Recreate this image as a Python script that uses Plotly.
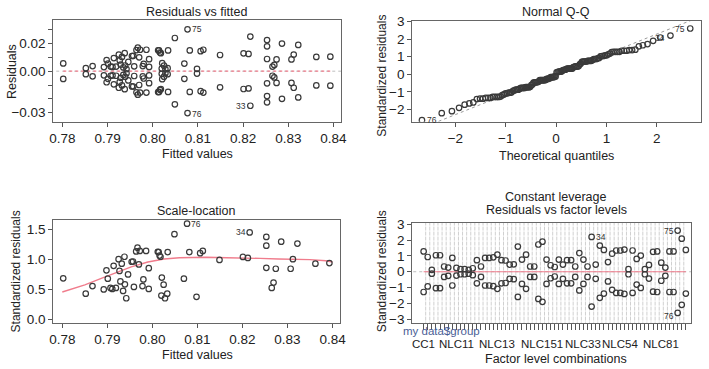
import plotly.graph_objects as go
from statistics import NormalDist
import numpy as np

# ---------------- data ----------------
# per group: fitted value and absolute residual (each group gives a +/- pair)
fitted = [0.7802, 0.7852, 0.7867, 0.7892, 0.7898, 0.7901, 0.7907, 0.7911, 0.7914, 0.7919,
          0.7925, 0.7927, 0.7929, 0.7932, 0.7935, 0.7938, 0.7939, 0.7942, 0.7946, 0.7954,
          0.7957, 0.7959, 0.7964, 0.7967, 0.7970, 0.7972, 0.7978, 0.7980, 0.7986, 0.7992,
          0.7992, 0.8012, 0.8014, 0.8016, 0.8018, 0.8020, 0.8021, 0.8025, 0.8028, 0.8033,
          0.8034, 0.8049, 0.8070, 0.8077, 0.8082, 0.8098, 0.8106, 0.8112, 0.8149, 0.8201,
          0.8212, 0.8216, 0.8253, 0.8253, 0.8253, 0.8265, 0.8269, 0.8274, 0.8286, 0.8307,
          0.8312, 0.8322, 0.8362, 0.8393]
abs_resid = [0.0056, 0.0022, 0.0037, 0.0030, 0.0080, 0.0055, 0.0033, 0.0031, 0.0095, 0.0033,
             0.0120, 0.0078, 0.0048, 0.0103, 0.0027, 0.0130, 0.0041, 0.0015, 0.0067, 0.0110,
             0.0111, 0.0035, 0.0153, 0.0170, 0.0100, 0.0155, 0.0037, 0.0053, 0.0155, 0.0087,
             0.0031, 0.0151, 0.0150, 0.0135, 0.0130, 0.0019, 0.0058, 0.0040, 0.0015, 0.0022,
             0.0150, 0.0240, 0.0055, 0.0303, 0.0150, 0.0017, 0.0145, 0.0155, 0.0117, 0.0129,
             0.0125, 0.0250, 0.0225, 0.0180, 0.0088, 0.0033, 0.0045, 0.0085, 0.0200, 0.0085,
             0.0120, 0.0190, 0.0103, 0.0105]
# standardized residual per unit of raw residual (1 / (sigma*sqrt(1-h)))
std_per_resid = 84.5

# scale-location smoother
smooth_x = [0.7800, 0.7850, 0.7888, 0.7920, 0.7953, 0.7990, 0.8026, 0.8060, 0.8095, 0.8120,
            0.8165, 0.8200, 0.8239, 0.8280, 0.8312, 0.8350, 0.8385, 0.8400]
smooth_y = [0.46, 0.58, 0.69, 0.78, 0.88, 0.96, 1.01, 1.03, 1.04, 1.04,
            1.03, 1.02, 1.02, 1.01, 1.01, 1.00, 0.98, 0.96]

# residuals vs factor levels: absolute standardized residual per level (alphabetical order)
level_abs_std = [1.28, 0.93, 0.12, 1.04, 1.04, 0.33, 0.26, 0.87, 0.24, 0.16,
                 0.16, 0.12, 0.22, 0.73, 0.33, 0.87, 0.87, 0.91, 1.08, 0.73,
                 0.71, 0.45, 0.47, 1.59, 0.77, 1.08, 0.33, 0.33, 1.72, 1.90,
                 0.77, 0.41, 0.30, 0.77, 0.45, 0.73, 0.73, 0.33, 1.18, 0.77,
                 0.33, 2.20, 0.45, 1.65, 1.38, 0.61, 1.14, 1.34, 1.34, 1.40,
                 0.16, 1.34, 0.81, 1.02, 0.16, 0.43, 1.26, 1.28, 0.57, 0.26,
                 1.28, 1.28, 2.60, 2.09, 1.38]
level_labels = ["CC1", "NLC11", "NLC13", "NLC151", "NLC33", "NLC54", "NLC81"]
level_label_index = [1, 9, 19, 30, 40, 49, 59]

# ---------------- derived series ----------------
fx = np.array(fitted)
ar = np.array(abs_resid)
p1_x = np.concatenate([fx, fx])
p1_y = np.concatenate([ar, -ar])
p3_y = np.sqrt(ar * std_per_resid)

lv = np.array(level_abs_std)
nlev = len(lv)
lev_idx = np.arange(1, nlev + 1)
p4_x = np.concatenate([lev_idx, lev_idx])
p4_y = np.concatenate([lv, -lv])

qq_y = np.sort(p4_y)
n = len(qq_y)
nd = NormalDist()
qq_x = np.array([nd.inv_cdf((i + 0.5) / n) for i in range(n)])
q25, q75 = np.quantile(qq_y, [0.25, 0.75])
z25, z75 = nd.inv_cdf(0.25), nd.inv_cdf(0.75)
slope = (q75 - q25) / (z75 - z25)
inter = q25 - slope * z25

# ---------------- figure ----------------
W, H = 709, 369
FONT = "Liberation Sans, Arial, sans-serif"
PT = "#3a3a3a"
RED = "#f07c8c"
GRAY = "#bdbdbd"


def dx(px):
    return px / W


def dy(py):
    return 1 - py / H


mk = dict(symbol="circle-open", size=5.5, color=PT, line=dict(width=1.2, color=PT))

fig = go.Figure()
# panel 1
fig.add_trace(go.Scatter(x=[0.776, 0.844], y=[0, 0], mode="lines",
                         line=dict(color=GRAY, width=1, dash="dot"), xaxis="x", yaxis="y"))
fig.add_trace(go.Scatter(x=[fx.min(), fx.max()], y=[0, 0], mode="lines",
                         line=dict(color=RED, width=1.2, dash="dot"), xaxis="x", yaxis="y"))
fig.add_trace(go.Scatter(x=p1_x, y=p1_y, mode="markers", marker=mk, xaxis="x", yaxis="y"))
# panel 2
fig.add_trace(go.Scatter(x=[-3, 3], y=[inter - 3 * slope, inter + 3 * slope], mode="lines",
                         line=dict(color="#999999", width=1, dash="dot"), xaxis="x2", yaxis="y2"))
fig.add_trace(go.Scatter(x=qq_x, y=qq_y, mode="markers", marker=mk, xaxis="x2", yaxis="y2"))
# panel 3
fig.add_trace(go.Scatter(x=smooth_x, y=smooth_y, mode="lines",
                         line=dict(color=RED, width=1.4), xaxis="x3", yaxis="y3"))
fig.add_trace(go.Scatter(x=fx, y=p3_y, mode="markers", marker=mk, xaxis="x3", yaxis="y3"))
# panel 4
vx, vy = [], []
for b in lev_idx[:-1]:
    vx += [b + 0.5, b + 0.5, None]
    vy += [-3.4, 3.3, None]
fig.add_trace(go.Scatter(x=vx, y=vy, mode="lines", line=dict(color="#d0d0d0", width=1, dash="4px,1px"),
                         xaxis="x4", yaxis="y4"))
fig.add_trace(go.Scatter(x=[-3, nlev + 3], y=[0, 0], mode="lines",
                         line=dict(color=GRAY, width=1, dash="dot"), xaxis="x4", yaxis="y4"))
fig.add_trace(go.Scatter(x=[1, nlev], y=[0, 0], mode="lines",
                         line=dict(color=RED, width=1.2), xaxis="x4", yaxis="y4"))
fig.add_trace(go.Scatter(x=p4_x, y=p4_y, mode="markers", marker=mk, xaxis="x4", yaxis="y4"))

ax_common = dict(showline=True, mirror=True, linecolor="#666666", linewidth=1, ticks="outside",
                 ticklen=4, tickcolor="#555555", showgrid=False, zeroline=False,
                 tickfont=dict(family=FONT, size=13.5, color="#222222"))

fig.update_layout(
    width=W, height=H, margin=dict(l=0, r=0, t=0, b=0), showlegend=False,
    paper_bgcolor="white", plot_bgcolor="white",
    xaxis=dict(domain=[dx(50), dx(342)], range=[0.778, 0.8417], anchor="y",
               tickvals=[0.78, 0.79, 0.80, 0.81, 0.82, 0.83, 0.84],
               ticktext=["0.78", "0.79", "0.80", "0.81", "0.82", "0.83", "0.84"], **ax_common),
    yaxis=dict(domain=[dy(119), dy(14)], range=[-0.0366, 0.0373], anchor="x",
               tickvals=[-0.03, -0.02, -0.01, 0, 0.01, 0.02, 0.03],
               ticktext=["\u22120.03", "", "", "0.00", "", "0.02", ""], **ax_common),
    xaxis2=dict(domain=[dx(414), dx(707)], range=[-2.86, 2.88], anchor="y2",
                tickvals=[-2, -1, 0, 1, 2], ticktext=["\u22122", "\u22121", "0", "1", "2"], **ax_common),
    yaxis2=dict(domain=[dy(119), dy(15)], range=[-2.69, 3.05], anchor="x2",
                tickvals=[-2, -1, 0, 1, 2, 3], ticktext=["\u22122", "\u22121", "0", "1", "2", "3"], **ax_common),
    xaxis3=dict(domain=[dx(50), dx(341)], range=[0.778, 0.8417], anchor="y3",
                tickvals=[0.78, 0.79, 0.80, 0.81, 0.82, 0.83, 0.84],
                ticktext=["0.78", "0.79", "0.80", "0.81", "0.82", "0.83", "0.84"], **ax_common),
    yaxis3=dict(domain=[dy(325.7), dy(220)], range=[-0.055, 1.66], anchor="x3",
                tickvals=[0, 0.5, 1.0, 1.5], ticktext=["0.0", "0.5", "1.0", "1.5"], **ax_common),
    xaxis4=dict(domain=[dx(414), dx(697)], range=[-1.8, nlev + 1.3], anchor="y4",
                tickvals=list(lev_idx), ticktext=[""] * nlev,
                **{**ax_common, "ticklen": 6}),
    yaxis4=dict(domain=[dy(325.7), dy(222.7)], range=[-3.23, 3.1], anchor="x4",
                tickvals=[-3, -2, -1, 0, 1, 2, 3],
                ticktext=["\u22123", "\u22122", "\u22121", "0", "1", "2", "3"], **ax_common),
)

ann = []


def txt(x, y, s, size=12.5, angle=0, color="#222222", xanchor="center"):
    ann.append(dict(x=dx(x), y=dy(y), xref="paper", yref="paper", text=s, showarrow=False,
                    font=dict(family=FONT, size=size, color=color), textangle=angle,
                    xanchor=xanchor, yanchor="middle"))


# titles
txt(195, 6, "Residuals vs fitted")
txt(560, 6, "Normal Q-Q")
txt(195, 211, "Scale-location")
txt(560, 196, "Constant leverage")
txt(560, 210, "Residuals vs factor levels")
# axis titles
txt(8, 67, "Residuals", angle=-90)
txt(196, 152, "Fitted values")
txt(383, 72, "Standardized residuals", size=12, angle=-90)
txt(560, 154, "Theoretical quantiles")
txt(12, 273, "Standardized residuals", size=12, angle=-90)
txt(196, 359, "Fitted values")
txt(383, 273, "Standardized residuals", size=12, angle=-90)
txt(560, 363, "Factor level combinations")
txt(403, 334, "my data$group", size=11.5, color="#4a5e96", xanchor="left")

# factor level tick labels
for lab, i in zip(level_labels, level_label_index):
    ann.append(dict(x=i, y=dy(347), xref="x4", yref="paper", text=lab, showarrow=False,
                    font=dict(family=FONT, size=11.5, color="#222222"), xanchor="center", yanchor="middle"))


# point id labels
def plab(x, y, s, xr, yr, xanchor, xshift, yshift=0):
    ann.append(dict(x=x, y=y, xref=xr, yref=yr, text=s, showarrow=False, xanchor=xanchor,
                    xshift=xshift, yshift=yshift, font=dict(family=FONT, size=8.5, color="#333333")))


i75 = int(np.argmax(ar))
plab(fx[i75], ar[i75], "75", "x", "y", "left", 2)
plab(fx[i75], -ar[i75] - 0.0008, "76", "x", "y", "left", 2)
i33 = int(np.argmax(np.where(fx > 0.82, ar, 0)))
plab(fx[i33], -ar[i33] - 0.0005, "33", "x", "y", "right", -2)
plab(qq_x[0], qq_y[0], "76", "x2", "y2", "left", 3)
plab(qq_x[-1], qq_y[-1], "75", "x2", "y2", "right", -3)
plab(qq_x[-2], qq_y[-2], "34", "x2", "y2", "right", -3, -2)
plab(fx[i75], p3_y[i75], "76", "x3", "y3", "left", 2)
plab(fx[i33], p3_y[i33], "34", "x3", "y3", "right", -2)
i34 = int(np.argmax(np.where(lev_idx < 50, lv, 0)))
plab(lev_idx[i34], lv[i34], "34", "x4", "y4", "left", 2)
i75l = int(np.argmax(lv))
plab(lev_idx[i75l], lv[i75l], "75", "x4", "y4", "right", -2)
plab(lev_idx[i75l], -lv[i75l] - 0.2, "76", "x4", "y4", "right", -2)

fig.update_layout(annotations=ann)
fig.write_html("out.html")
